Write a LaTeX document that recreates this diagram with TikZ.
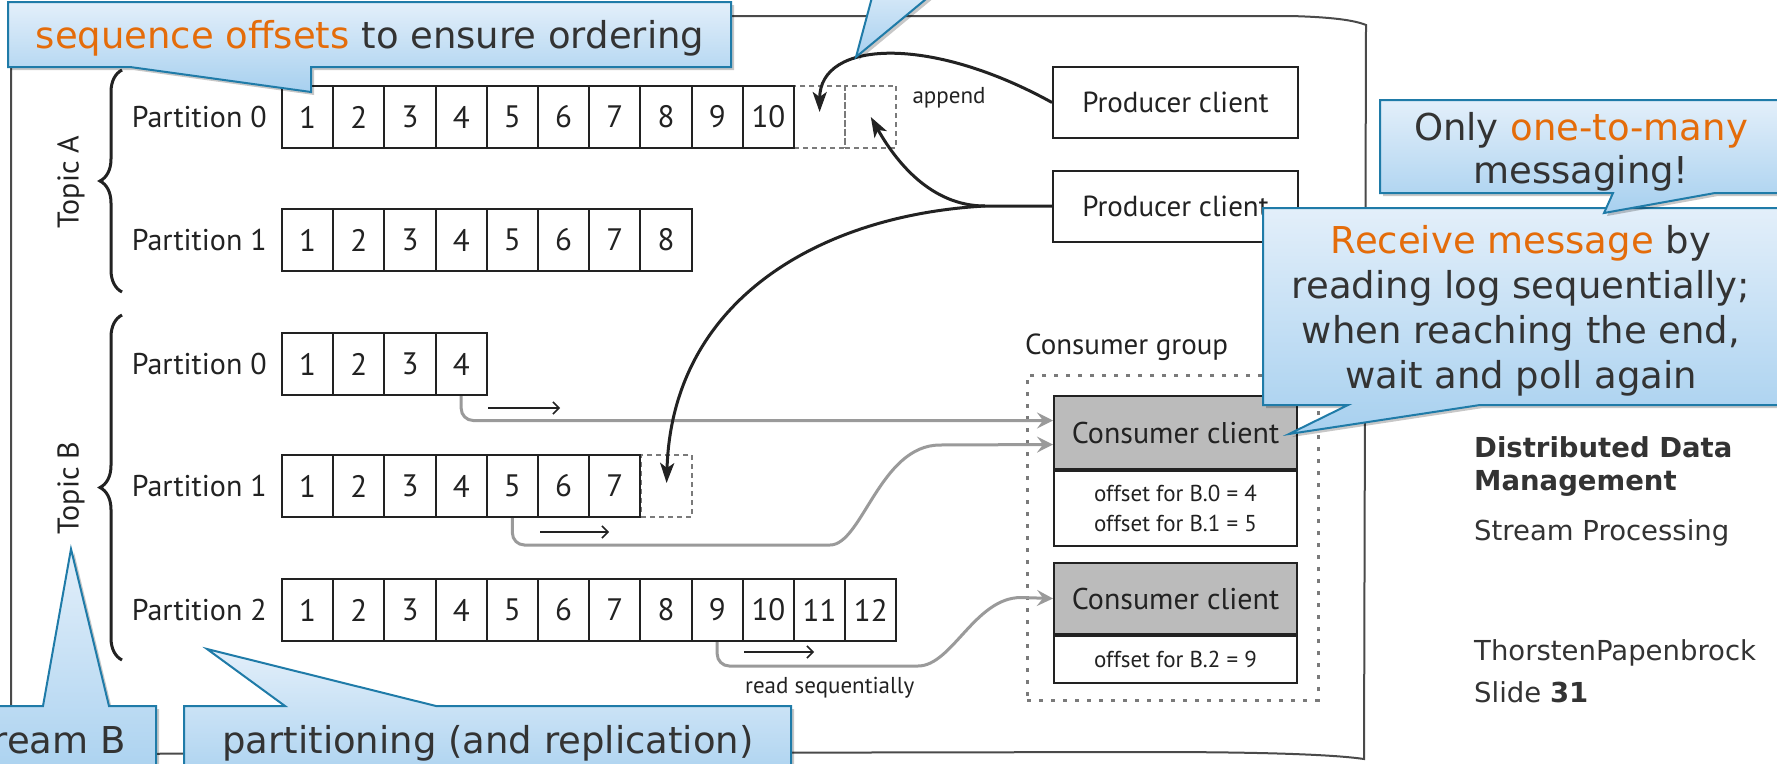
\documentclass[tikz,border=0pt]{standalone}
\usepackage{fontspec}
\newfontfamily\figfont{PT Sans}
\newfontfamily\slidefont{DejaVu Sans}
\usetikzlibrary{arrows.meta,decorations.pathreplacing}

\definecolor{ink}{HTML}{222222}
\definecolor{frameline}{HTML}{4A4A4A}
\definecolor{dashgray}{HTML}{7A7A7A}
\definecolor{readgray}{HTML}{9A9A9A}
\definecolor{headgray}{HTML}{BBBBBB}
\definecolor{calloutTop}{HTML}{E3EFFA}
\definecolor{calloutBot}{HTML}{A7D0EF}
\definecolor{calloutEdge}{HTML}{1F7BA8}
\definecolor{accent}{HTML}{E46C0A}
\definecolor{slidetext}{HTML}{333333}

\tikzset{
  cell/.style={draw=ink, line width=2pt, minimum width=51.2pt, minimum height=62pt,
    inner sep=0pt, text=ink, font=\figfont\fontsize{31}{31}\selectfont},
  dcell/.style={draw=dashgray, line width=2pt, dash pattern=on 5pt off 4pt,
    minimum width=51.2pt, minimum height=62pt, inner sep=0pt},
  plabel/.style={anchor=east, inner sep=0pt, text=ink, font=\figfont\fontsize{30}{30}\selectfont},
  topiclabel/.style={rotate=90, inner sep=0pt, text=ink, font=\figfont\fontsize{30}{30}\selectfont},
  topicbrace/.style={draw=ink, line width=3pt, decorate, decoration={brace, amplitude=22pt}},
  producer/.style={draw=ink, line width=2pt, fill=white, minimum width=245pt, minimum height=71pt,
    inner sep=0pt, text=ink, font=\figfont\fontsize{29}{29}\selectfont},
  chead/.style={draw=ink, line width=2pt, fill=headgray, minimum width=243pt, inner sep=0pt,
    text=ink, font=\figfont\fontsize{30}{30}\selectfont},
  cbody/.style={draw=ink, line width=2pt, fill=white, minimum width=243pt, inner sep=0pt,
    align=center, text=ink, font=\figfont\fontsize{23}{30}\selectfont},
  group/.style={draw=dashgray, line width=3pt, dash pattern=on 4pt off 8pt,
    minimum width=291pt, minimum height=325pt, inner sep=0pt},
  smalltext/.style={inner sep=0pt, text=ink, font=\figfont\fontsize{23}{23}\selectfont},
  writearrow/.style={draw=ink, line width=3pt, -{Stealth[length=20pt,width=14pt,inset=5pt]}},
  readpath/.style={draw=readgray, line width=3pt, -{Stealth[length=16pt,width=16pt,inset=6pt]}},
  dirarrow/.style={draw=ink, line width=1.5pt, -{Straight Barb[length=6pt,width=12pt]}},
  callout/.style={draw=calloutEdge, line width=2pt, top color=calloutTop, bottom color=calloutBot,
    preaction={fill=black, opacity=0.22, transform canvas={shift={(3pt,-3pt)}}}},
  callouttext/.style={anchor=base, inner sep=0pt, text=slidetext,
    font=\slidefont\fontsize{37}{45}\selectfont},
  sidetext/.style={anchor=base west, inner sep=0pt, text=slidetext,
    font=\slidefont\fontsize{27.5}{33}\selectfont},
}

\begin{document}
\begin{tikzpicture}[x=1pt,y=-1pt]
\useasboundingbox (0,0) rectangle (1777,763);
\clip (0,0) rectangle (1777,763);
\fill[white] (0,0) rectangle (1777,763);

% outline of the figure page
\draw[draw=frameline, line width=2pt] (11,754) -- (11,16) -- (1290,16)
  .. controls (1330,17) and (1354,20) .. (1366,25) -- (1364,759)
  .. controls (1330,754) and (1250,752) .. (1150,752) -- cycle;

% topics
\draw[topicbrace] (122,292) -- (122,70);
\draw[topicbrace] (122,660) -- (122,315);
\node[topiclabel] (topicA) at (71,182) {Topic A};
\node[topiclabel] (topicB) at (71,488) {Topic B};

% empty slots that receive the next appended messages
\node[dcell] (a0d1) at (819.6,117) {};
\node[dcell] (a0d2) at (870.8,117) {};
\node[dcell] (b1d) at (666.6,486) {};

% partition logs
\foreach \n/\y/\len in {a0/117/10, a1/240/8, b0/364/4, b1/486/7, b2/610/12}{
  \foreach \i in {1,...,\len}{
    \node[cell] (\n-\i) at ({282+51.2*(\i-0.5)},\y) {\i};
  }
}
\node[plabel] (la0) at ([xshift=-14pt]a0-1.west) {Partition 0};
\node[plabel] (la1) at ([xshift=-14pt]a1-1.west) {Partition 1};
\node[plabel] (lb0) at ([xshift=-14pt]b0-1.west) {Partition 0};
\node[plabel] (lb1) at ([xshift=-14pt]b1-1.west) {Partition 1};
\node[plabel] (lb2) at ([xshift=-14pt]b2-1.west) {Partition 2};
\node[smalltext] (append) at (949,98) {append};

% producers
\node[producer] (pc1) at (1175.5,102.5) {Producer client};
\node[producer] (pc2) at (1175.5,206) {Producer client};
\coordinate (fork) at (985,206);

% consumer group
\node[group] (cg) at (1172.5,537.5) {};
\node[anchor=west, inner sep=0pt, text=ink, font=\figfont\fontsize{29}{29}\selectfont]
  (cglabel) at (1025,347) {Consumer group};
\node[chead, minimum height=73pt, anchor=north west] (cc1) at (1053,395) {Consumer client};
\node[cbody, minimum height=75pt, anchor=north] (cc1o) at (cc1.south)
  {offset for B.0 = 4\\offset for B.1 = 5};
\node[chead, minimum height=71pt, anchor=north west] (cc2) at (1053,562) {Consumer client};
\node[cbody, minimum height=47pt, anchor=north] (cc2o) at (cc2.south) {offset for B.2 = 9};

% sequential reads
\draw[readpath, rounded corners=12pt] (b0-4.south) |- ([yshift=12pt]cc1.west);
\draw[readpath] (b1-5.south) [rounded corners=12pt] |- (818,545) [sharp corners]
  .. controls (862,545) and (880,445) .. (940,445) -- ([yshift=-12pt]cc1.west);
\draw[readpath] (b2-9.south) [rounded corners=12pt] |- (906,666) [sharp corners]
  .. controls (952,666) and (975,597.5) .. (1021,597.5) -- (cc2.west);

\coordinate (r0s) at (488,408);  \coordinate (r0e) at (560,408);
\coordinate (r1s) at (540,532);  \coordinate (r1e) at (609,532);
\coordinate (r2s) at (744,652);  \coordinate (r2e) at (814,652);
\draw[dirarrow] (r0s) -- (r0e);
\draw[dirarrow] (r1s) -- (r1e);
\draw[dirarrow] (r2s) -- (r2e);
\node[smalltext, anchor=west] (readseq) at (745,688) {read sequentially};

% appends
\draw[writearrow] (pc1.west) .. controls (930,35) and (820,40) .. ([yshift=5pt]a0d1.center);
\draw[writearrow] (pc2.west) -- (fork) .. controls (930,206) and (895,160) .. (a0d2.center);
\draw[writearrow] (fork) .. controls (820,215) and (672,300) .. ([yshift=3pt]b1d.center);

% callouts
\path[callout] (1263,208) -- (1790,208) -- (1790,405) -- (1480,405) -- (1289,434)
  -- (1348,405) -- (1263,405) -- cycle;
\node[callouttext] (rc1) at (1521,253) {\textcolor{accent}{Receive message} by};
\node[callouttext] (rc2) at (1521,298) {reading log sequentially;};
\node[callouttext] (rc3) at (1521,343) {when reaching the end,};
\node[callouttext] (rc4) at (1521,388) {wait and poll again};

\path[callout] (1380,100) -- (1790,100) -- (1790,193) -- (1715,193) -- (1604,213)
  -- (1613,193) -- (1380,193) -- cycle;
\node[callouttext] (om1) at (1581,140) {Only \textcolor{accent}{one-to-many}};
\node[callouttext] (om2) at (1581,183) {messaging!};

\path[callout] (8,2) -- (731,2) -- (731,67) -- (311,67) -- (311,92) -- (130,67)
  -- (8,67) -- cycle;
\node[callouttext] (so) at (370,48) {\textcolor{accent}{sequence offsets} to ensure ordering};

\path[callout] (878,-25) -- (856,57) -- (955,-25) -- cycle;

\path[callout] (-20,706) -- (43,706) -- (71,549) -- (109,706) -- (156,706) -- (156,790)
  -- (-20,790) -- cycle;
\node[callouttext, anchor=base east] (sb) at (126,753) {ream B};

\path[callout] (184,706) -- (285,706) -- (207,649) -- (436,706) -- (791,706) -- (791,790)
  -- (184,790) -- cycle;
\node[callouttext] (pr) at (488,753) {partitioning (and replication)};

% slide footer
\node[sidetext] (s1) at (1474,457) {\bfseries Distributed Data};
\node[sidetext] (s2) at (1474,490) {\bfseries Management};
\node[sidetext] (s3) at (1474,540) {Stream Processing};
\node[sidetext] (s4) at (1474,660) {ThorstenPapenbrock};
\node[sidetext] (s5) at (1474,702) {Slide \textbf{31}};
\end{tikzpicture}
\end{document}
